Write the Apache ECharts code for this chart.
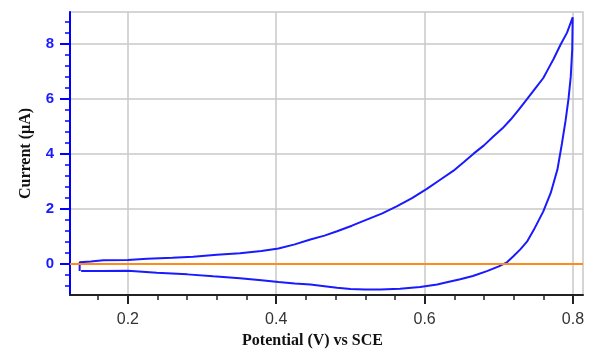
<!DOCTYPE html>
<html>
<head>
<meta charset="utf-8">
<script src="https://cdn.jsdelivr.net/npm/echarts@6/dist/echarts.min.js"></script>
<style>
  html, body { margin: 0; padding: 0; background: #fff; }
  #chart { width: 592px; height: 351px; }
</style>
</head>
<body>
<div id="chart"></div>
<script>
// cyclic voltammogram (V vs SCE, µA)
var potential = [
  0.135, 0.135, 0.15, 0.167, 0.2, 0.226, 0.26, 0.288, 0.32, 0.351, 0.38, 0.403, 0.425, 0.446,
  0.465, 0.482, 0.502, 0.522, 0.543, 0.563, 0.583, 0.603, 0.621, 0.639, 0.653, 0.666, 0.68,
  0.693, 0.705, 0.716, 0.727, 0.738, 0.75, 0.76, 0.765, 0.774, 0.783, 0.792, 0.7996,
  0.799, 0.797, 0.794, 0.79, 0.785, 0.779, 0.77, 0.76, 0.747, 0.738, 0.729, 0.72, 0.711,
  0.7, 0.684, 0.665, 0.648, 0.63, 0.617, 0.594, 0.567, 0.54, 0.52, 0.5, 0.482, 0.465,
  0.446, 0.425, 0.403, 0.38, 0.351, 0.315, 0.28, 0.239, 0.2, 0.165, 0.137
];
var current = [
  -0.27, 0.05, 0.08, 0.12, 0.13, 0.18, 0.21, 0.25, 0.32, 0.38, 0.46, 0.55, 0.7, 0.88,
  1.02, 1.18, 1.38, 1.6, 1.83, 2.09, 2.38, 2.72, 3.05, 3.38, 3.7, 4.0, 4.3,
  4.63, 4.92, 5.24, 5.6, 5.98, 6.4, 6.75, 7.0, 7.45, 7.95, 8.4, 8.96,
  7.8, 6.8, 6.0, 5.2, 4.35, 3.42, 2.57, 1.9, 1.22, 0.8, 0.52, 0.28, 0.05,
  -0.1, -0.27, -0.45, -0.57, -0.68, -0.76, -0.85, -0.91, -0.94, -0.94, -0.92, -0.88, -0.82,
  -0.76, -0.72, -0.67, -0.6, -0.53, -0.46, -0.39, -0.33, -0.26, -0.27, -0.27
];
var xMajorTicks = [0.2, 0.4, 0.6, 0.8];
var xMinorTicks = [0.16, 0.24, 0.28, 0.32, 0.36, 0.44, 0.48, 0.52, 0.56, 0.64, 0.68, 0.72, 0.76];
var yMajorTicks = [0, 2, 4, 6, 8];
var yMinorTicks = [-0.8, -0.4, 0.4, 0.8, 1.2, 1.6, 2.4, 2.8, 3.2, 3.6, 4.4, 4.8, 5.2, 5.6,
  6.4, 6.8, 7.2, 7.6, 8.4, 8.8];
var zeroLevel = 0;

var cvChart = echarts.init(document.getElementById('chart'));

var cvData = potential.map(function (v, i) { return [v, current[i]]; });

var xMin = 0.122, xMax = 0.8135;
var yMin = -1.14, yMax = 9.15;

var option = {
  animation: false,
  grid: {
    left: 70, right: 9, top: 12, bottom: 56,
    outerBoundsMode: 'none',
    containLabel: false,
    show: true,
    borderColor: '#c8c8c8',
    borderWidth: 1.5
  },
  xAxis: [
    {
      type: 'value',
      min: xMin, max: xMax,
      name: 'Potential (V) vs SCE',
      nameLocation: 'middle',
      nameGap: 36,
      nameTextStyle: {
        fontFamily: 'Liberation Serif', fontWeight: 'bold', fontSize: 16, color: '#111',
        padding: [0, 28, 0, 0]
      },
      axisLine: { onZero: false, lineStyle: { color: '#222', width: 2 } },
      axisTick: { customValues: xMajorTicks, length: 9, lineStyle: { color: '#222', width: 2 } },
      axisLabel: {
        customValues: xMajorTicks,
        margin: 17,
        fontFamily: 'Liberation Sans', fontSize: 16, color: '#333',
        formatter: function (v) { return v.toFixed(1); }
      },
      splitLine: { show: true, lineStyle: { color: '#c8c8c8', width: 1.5 } }
    },
    {
      type: 'value',
      position: 'bottom',
      min: xMin, max: xMax,
      axisLine: { show: false, onZero: false },
      axisTick: { show: true, customValues: xMinorTicks, length: 5, lineStyle: { color: '#222', width: 1.5 } },
      axisLabel: { show: false },
      splitLine: { show: false }
    }
  ],
  yAxis: [
    {
      type: 'value',
      min: yMin, max: yMax,
      name: 'Current (µA)',
      nameLocation: 'middle',
      nameGap: 36,
      nameTextStyle: {
        fontFamily: 'Liberation Serif', fontWeight: 'bold', fontSize: 16, color: '#111'
      },
      axisLine: { onZero: false, lineStyle: { color: '#0000ff', width: 2 } },
      axisTick: { customValues: yMajorTicks, length: 10, lineStyle: { color: '#0000ff', width: 2 } },
      axisLabel: {
        customValues: yMajorTicks,
        margin: 16,
        fontFamily: 'Liberation Sans', fontSize: 15, fontWeight: 'bold', color: '#1a1aff',
        formatter: function (v) { return String(Math.round(v)); }
      },
      splitLine: { show: true, lineStyle: { color: '#c8c8c8', width: 1.5 } }
    },
    {
      type: 'value',
      position: 'left',
      min: yMin, max: yMax,
      axisLine: { show: false, onZero: false },
      axisTick: { show: true, customValues: yMinorTicks, length: 5, lineStyle: { color: '#0000ff', width: 1.5 } },
      axisLabel: { show: false },
      splitLine: { show: false }
    }
  ],
  series: [
    {
      name: 'CV',
      type: 'line',
      data: cvData,
      showSymbol: false,
      lineStyle: { color: '#1a1aff', width: 2 },
      markLine: {
        silent: true,
        symbol: 'none',
        label: { show: false },
        lineStyle: { color: '#ff8c1a', width: 2, type: 'solid' },
        data: [{ yAxis: zeroLevel }]
      }
    }
  ]
};

cvChart.setOption(option);
</script>
</body>
</html>
